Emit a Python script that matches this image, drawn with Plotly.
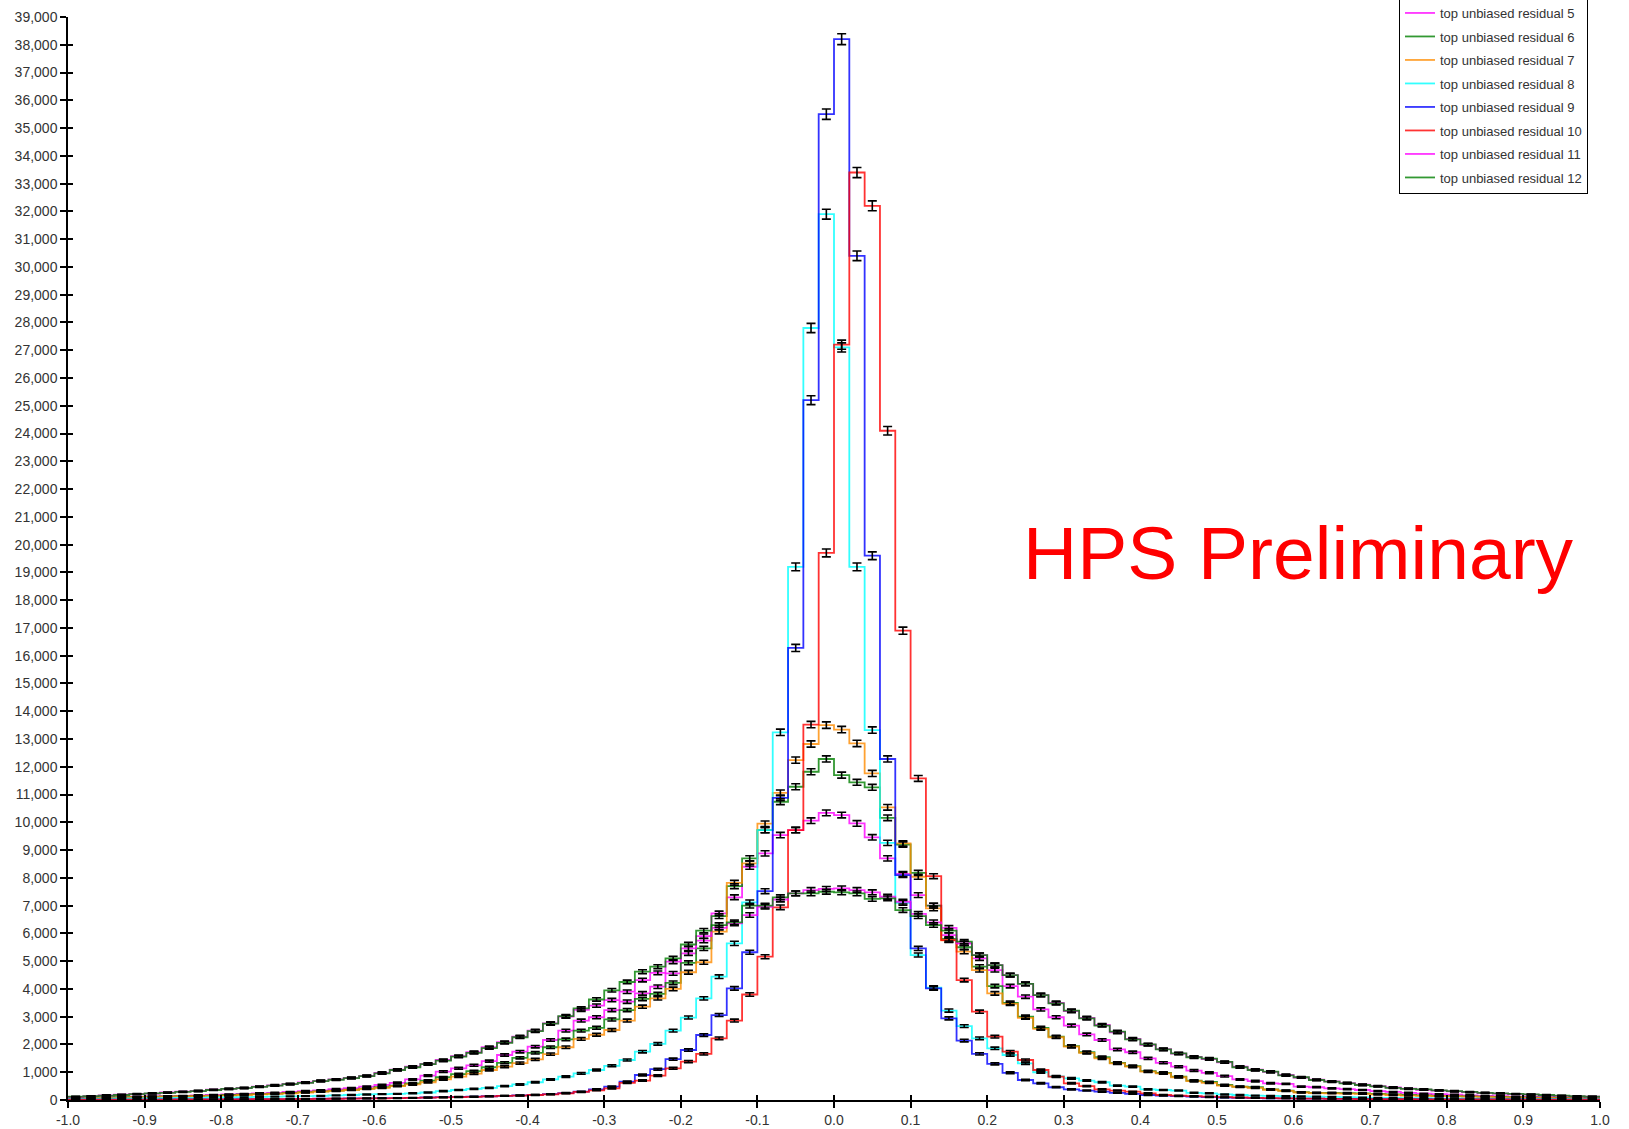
import numpy as np
import plotly.graph_objects as go

# ---------------- data ----------------
x_min, x_max, n_bins = -1.0, 1.0, 100

series_names = [
    "top unbiased residual 5", "top unbiased residual 6", "top unbiased residual 7",
    "top unbiased residual 8", "top unbiased residual 9", "top unbiased residual 10",
    "top unbiased residual 11", "top unbiased residual 12",
]
series_colors = ["#FF00FF", "#008000", "#FF8C00", "#00FFFF", "#0000FF", "#FF0000", "#FF00FF", "#008000"]

res5 = [80,90,100,110,120,130,140,150,170,180, 200,220,240,260,290,320,350,390,430,480,
        540,620,740,880,1020,1140,1250,1400,1620,1740, 1920,2160,2500,2860,2980,
        3240,3540,3840,4080,4560,5280,5740,6720,7300,8400, 8880,9540,9720,10060,10340,10260,9960,9460,8700,8140,
        7380,7000,5940,5640,5100,4680,4100,3720,3260,2980,
        2680,2360,2160,1820,1720,1500,1340,1200,1060,980, 860,740,680,600,580,480,460,420,390,360,
        320,290,260,230,210,190,170,150,140,120, 110,100,90,80,80]
res6 = [70,80,90,100,110,120,130,140,150,160, 180,200,210,230,260,280,310,340,370,410,
        460,520,600,700,820,930,1040,1180,1340,1520, 1700,1900,2180,2500,2600,
        2900,3240,3640,3820,4220,4940,5460,6620,7700,8700, 9720,10740,11280,11820,12280,11700,11440,11260,10160,9200,
        8180,7000,5800,5500,4800,4100,3500,3000,2600,2280,
        1940,1720,1540,1340,1220,1040,980,840,700,650, 540,480,460,380,340,280,260,260,250,240,
        220,200,180,170,150,140,130,120,110,100, 90,90,80,80,70]
res7 = [60,70,80,90,100,110,120,130,140,150, 160,180,200,220,240,270,300,330,360,400,
        440,500,560,640,740,840,950,1080,1200,1330, 1460,1650,1900,2200,2350,
        2520,2860,3360,3660,4000,4600,4960,6060,7820,8520, 9950,11060,12240,12820,13500,13340,12840,11760,10540,9240,
        8040,6900,5750,5340,4680,3840,3460,2960,2560,2260,
        1920,1700,1500,1320,1200,1020,960,820,680,620, 520,470,440,370,330,270,250,240,230,220,
        200,180,160,150,140,130,120,110,100,90, 80,80,70,60,60]
res8 = [40,45,50,55,60,65,70,75,80,90, 95,100,110,120,130,140,150,165,180,200,
        210,220,240,270,320,360,400,440,500,560, 640,740,840,960,1080,
        1230,1440,1740,2020,2500,2970,3660,4440,5640,7120, 9720,13240,19200,27800,31900,27100,19200,13320,9260,7100,
        5220,4050,3220,2660,2220,1860,1620,1320,1000,850,
        780,700,640,520,480,380,360,340,260,240, 200,180,160,150,140,130,120,110,100,90,
        80,80,70,70,60,60,50,50,50,40, 40,40,40,30,30]
res9 = [10,10,10,15,15,15,20,20,20,25, 25,30,30,35,35,40,45,50,55,60,
        65,70,80,90,100,110,120,135,150,165, 185,210,250,300,380,
        480,660,900,1110,1470,1800,2340,3060,4020,5320, 7520,10880,16280,25200,35500,38200,30400,19600,12280,8100,
        5460,4020,2940,2140,1660,1300,980,720,600,460,
        380,340,300,260,220,180,160,140,120,100, 90,80,70,60,60,50,50,40,40,40,
        30,30,30,30,20,20,20,20,20,20, 10,10,10,10,10]
res10 = [10,10,10,10,15,15,15,20,20,20, 25,25,30,30,35,35,40,45,50,55,
         60,65,75,85,95,105,115,130,145,160, 180,205,240,290,350,
         420,620,700,880,1140,1380,1660,2220,2860,3800, 5160,6940,9720,13520,19700,27200,33400,32200,24100,16900,
         11580,8060,5760,4320,3180,2280,1740,1440,1080,840,
         600,500,380,340,300,240,180,160,140,120, 100,90,80,70,60,50,50,40,40,30,
         30,30,30,20,20,20,20,20,20,10, 10,10,10,10,10]
res11 = [110,140,170,190,220,230,270,300,330,370, 400,440,480,530,580,630,690,740,800,870,
         980,1090,1200,1300,1440,1580,1720,1900,2080,2280, 2500,2760,3000,3250,3400,
         3600,3900,4320,4580,4980,5460,5900,6200,6360,6660, 6960,7220,7440,7560,7600,7620,7560,7480,7320,7140,
         6700,6400,6200,5640,5220,4860,4500,4180,3780,3500,
         3200,2960,2700,2440,2200,1990,1830,1670,1550,1470, 1360,1200,1090,1010,900,810,730,670,610,550,
         500,450,410,370,340,310,280,250,230,210, 190,170,150,130,120]
res12 = [120,140,160,180,210,240,260,290,320,360, 400,430,470,520,570,620,680,730,790,860,
         960,1080,1180,1290,1420,1560,1700,1870,2060,2260, 2480,2750,3020,3300,3620,
         3950,4250,4620,4800,5100,5600,6100,6300,6400,7000, 7000,7300,7440,7440,7500,7480,7440,7240,7260,6840,
         6620,6300,6100,5700,5220,4860,4500,4180,3780,3480,
         3220,2940,2680,2460,2180,2000,1820,1680,1540,1490, 1370,1180,1080,1020,890,820,720,660,600,540,
         490,440,400,380,350,320,290,260,240,220, 200,180,160,140,120]

series_values = [res5, res6, res7, res8, res9, res10, res11, res12]

x_tick_vals = [round(-1.0 + 0.1 * k, 1) for k in range(21)]
x_tick_labels = ["-1.0", "-0.9", "-0.8", "-0.7", "-0.6", "-0.5", "-0.4", "-0.3", "-0.2", "-0.1", "0.0",
                 "0.1", "0.2", "0.3", "0.4", "0.5", "0.6", "0.7", "0.8", "0.9", "1.0"]
y_tick_vals = list(range(0, 39001, 1000))
y_tick_labels = [f"{v:,}" for v in y_tick_vals]

for v in series_values:
    assert len(v) == n_bins, len(v)

# ---------------- figure ----------------
edges = np.linspace(x_min, x_max, n_bins + 1)
centers = 0.5 * (edges[:-1] + edges[1:])

fig = go.Figure()
for name, col, vals in zip(series_names, series_colors, series_values):
    fig.add_trace(go.Scatter(
        x=edges, y=list(vals) + [vals[-1]], mode="lines", line_shape="hv",
        line=dict(color=col, width=1.8), opacity=0.8, name=name, legendgroup=name,
    ))
for name, vals in zip(series_names, series_values):
    fig.add_trace(go.Scatter(
        x=centers, y=vals, mode="markers", marker=dict(size=1, color="rgba(0,0,0,0)"),
        error_y=dict(type="sqrt", color="black", thickness=1.6, width=4.5),
        showlegend=False, hoverinfo="skip", legendgroup=name,
    ))
# helper trace so the inside-tick overlay axes are drawn
fig.add_trace(go.Scatter(x=[], y=[], xaxis="x2", yaxis="y2", showlegend=False))

font_family = "Arial, Liberation Sans, sans-serif"
axis_common = dict(showgrid=False, zeroline=False, showline=True, linecolor="black", linewidth=1.5,
                   ticks="outside", ticklen=6, tickwidth=1.5, tickcolor="black",
                   tickfont=dict(family=font_family, size=14, color="#333333"))

fig.update_layout(
    width=1629, height=1129,
    margin=dict(l=68, r=29, t=17, b=29, autoexpand=False),
    paper_bgcolor="white", plot_bgcolor="white",
    xaxis=dict(range=[x_min, x_max], tickvals=x_tick_vals, ticktext=x_tick_labels, **axis_common),
    yaxis=dict(range=[0, 39000], tickvals=y_tick_vals, ticktext=y_tick_labels, **axis_common),
    xaxis2=dict(overlaying="x", anchor="y2", range=[x_min, x_max], tickvals=x_tick_vals,
                showticklabels=False, ticks="inside", ticklen=5, tickwidth=1.5, tickcolor="black",
                showgrid=False, zeroline=False, showline=False),
    yaxis2=dict(overlaying="y", anchor="x2", range=[0, 39000], tickvals=y_tick_vals,
                showticklabels=False, ticks="inside", ticklen=5, tickwidth=1.5, tickcolor="black",
                showgrid=False, zeroline=False, showline=False),
    showlegend=True,
    legend=dict(x=(1588 - 68) / 1532, xanchor="right", y=(1100 + 3) / 1083, yanchor="top",
                bgcolor="white", bordercolor="black", borderwidth=1,
                font=dict(family=font_family, size=13, color="#333333"),
                tracegroupgap=3.6, itemwidth=30),
    annotations=[dict(text="HPS Preliminary", x=(1298 - 68) / 1532, y=(1100 - 553) / 1083,
                      xref="paper", yref="paper", xanchor="center", yanchor="middle", showarrow=False,
                      font=dict(family=font_family, size=75, color="#FF0000"))],
)

fig.write_html("out.html")
